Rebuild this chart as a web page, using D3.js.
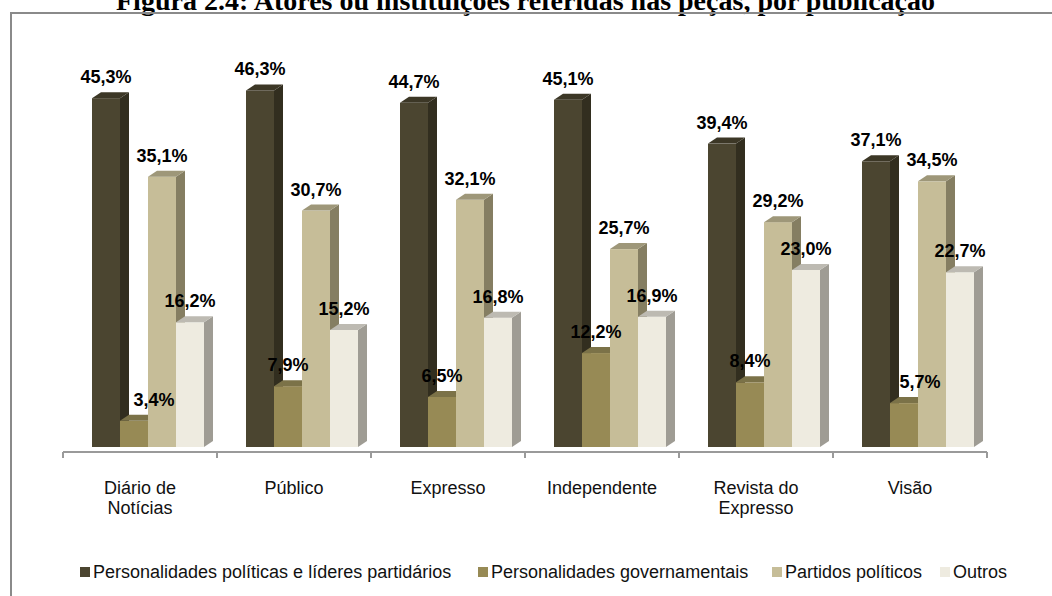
<!DOCTYPE html>
<html>
<head>
<meta charset="utf-8">
<script src="https://cdn.jsdelivr.net/npm/d3@7"></script>
<style>
  body { margin: 0; background: #fff; }
  svg { display: block; }
</style>
</head>
<body>
<div id="chart"></div>
<script>
/* global d3 */
// DATA
let categories = ["Diário de Notícias", "Público", "Expresso", "Independente", "Revista do Expresso", "Visão"]
let categoryLines = [["Diário de", "Notícias"], ["Público"], ["Expresso"], ["Independente"], ["Revista do", "Expresso"], ["Visão"]]
let seriesNames = ["Personalidades políticas e líderes partidários", "Personalidades governamentais", "Partidos políticos", "Outros"]
let politicos = [45.3, 46.3, 44.7, 45.1, 39.4, 37.1]
let governamentais = [3.4, 7.9, 6.5, 12.2, 8.4, 5.7]
let partidos = [35.1, 30.7, 32.1, 25.7, 29.2, 34.5]
let outros = [16.2, 15.2, 16.8, 16.9, 23.0, 22.7]
let titleText = "Figura 2.4: Atores ou instituições referidas nas peças, por publicação"

let seriesValues = [politicos, governamentais, partidos, outros]
// front / side / top face colours per series
let faces = [
  {front: "#4b4530", side: "#322e1f", top: "#3c3726"},
  {front: "#978a55", side: "#6c6440", top: "#7b7248"},
  {front: "#c6bd98", side: "#857e62", top: "#9e9779"},
  {front: "#eeebe0", side: "#9f9c94", top: "#bdbab2"}
]

let width = 1052, height = 596
let depthX = 9, depthY = 6
let sans = "'Liberation Sans', Arial, sans-serif"

let svg = d3.select("#chart").append("svg")
  .attr("width", width)
  .attr("height", height)

// title (partly cut off at the top, as in the original page)
svg.append("text")
  .attr("x", 116)
  .attr("y", 10)
  .style("font-family", "'Liberation Serif', 'Times New Roman', serif")
  .style("font-weight", "bold")
  .style("font-size", "28px")
  .text(titleText)

// frame
svg.append("rect")
  .attr("x", 11).attr("y", 13)
  .attr("width", 1060).attr("height", 600)
  .attr("fill", "none")
  .attr("stroke", "#8a8a8a")
  .attr("stroke-width", 2)

// SCALES
let xScale = d3.scaleBand()
  .domain(categories)
  .range([63, 987])

let innerScale = d3.scaleBand()
  .domain(d3.range(seriesNames.length))
  .range([29, 29 + 28 * seriesNames.length])

let yScale = d3.scaleLinear()
  .domain([0, 50])
  .range([447, 62])

// AXIS (floor edge + ticks at category boundaries)
let axisY = 452
let axisG = svg.append("g").attr("class", "x axis")
axisG.append("line")
  .attr("x1", xScale.range()[0]).attr("x2", xScale.range()[1])
  .attr("y1", axisY).attr("y2", axisY)
  .attr("stroke", "#9a9a9a").attr("stroke-width", 2)
axisG.selectAll(".tick")
  .data(d3.range(categories.length + 1))
  .join("line")
  .attr("class", "tick")
  .attr("x1", i => xScale.range()[0] + i * xScale.step())
  .attr("x2", i => xScale.range()[0] + i * xScale.step())
  .attr("y1", axisY).attr("y2", axisY + 6)
  .attr("stroke", "#9a9a9a").attr("stroke-width", 2)

axisG.selectAll(".cat")
  .data(categories)
  .join("text")
  .attr("class", "cat")
  .attr("text-anchor", "middle")
  .style("font-family", sans)
  .style("font-size", "18px")
  .attr("fill", "#111")
  .each(function(d, i) {
    d3.select(this).selectAll("tspan")
      .data(categoryLines[i])
      .join("tspan")
      .attr("x", xScale(d) + xScale.bandwidth() / 2)
      .attr("y", (l, j) => 494 + j * 20)
      .text(l => l)
  })

// BARS
let bars = []
categories.forEach((c, i) => {
  seriesValues.forEach((vals, s) => {
    bars.push({cat: c, s: s, value: vals[i]})
  })
})

let barW = innerScale.bandwidth()
let barG = svg.append("g")

let groups = barG.selectAll(".bar")
  .data(bars)
  .join("g")
  .attr("class", "bar")

// front face
groups.append("rect")
  .attr("x", d => xScale(d.cat) + innerScale(d.s))
  .attr("y", d => yScale(d.value))
  .attr("width", barW)
  .attr("height", d => yScale(0) - yScale(d.value))
  .attr("fill", d => faces[d.s].front)

// side face
groups.append("path")
  .attr("d", d => {
    let x1 = xScale(d.cat) + innerScale(d.s) + barW
    let y0 = yScale(0), y1 = yScale(d.value)
    return "M" + x1 + "," + y1 + "L" + (x1 + depthX) + "," + (y1 - depthY) +
      "L" + (x1 + depthX) + "," + (y0 - depthY) + "L" + x1 + "," + y0 + "Z"
  })
  .attr("fill", d => faces[d.s].side)

// top face
groups.append("path")
  .attr("d", d => {
    let x0 = xScale(d.cat) + innerScale(d.s)
    let y1 = yScale(d.value)
    return "M" + x0 + "," + y1 + "L" + (x0 + depthX) + "," + (y1 - depthY) +
      "L" + (x0 + barW + depthX) + "," + (y1 - depthY) + "L" + (x0 + barW) + "," + y1 + "Z"
  })
  .attr("fill", d => faces[d.s].top)

// value labels (two small ones sit a bit to the right in the original)
let labelNudge = {"Diário de Notícias-1": 20, "Visão-1": 16}
svg.append("g").selectAll("text")
  .data(bars)
  .join("text")
  .attr("x", d => xScale(d.cat) + innerScale(d.s) + barW / 2 + (labelNudge[d.cat + "-" + d.s] || 0))
  .attr("y", d => yScale(d.value) - 15)
  .attr("text-anchor", "middle")
  .style("font-family", sans)
  .style("font-weight", "bold")
  .style("font-size", "18px")
  .attr("fill", "#000")
  .text(d => d3.format(".1f")(d.value).replace(".", ",") + "%")

// LEGEND
let legendX = [80, 478, 772, 940]
let legend = svg.append("g").selectAll("g")
  .data(seriesNames)
  .join("g")
  .attr("transform", (d, i) => "translate(" + legendX[i] + ",567)")
legend.append("rect")
  .attr("width", 10).attr("height", 10)
  .attr("fill", (d, i) => faces[i].front)
legend.append("text")
  .attr("x", 13).attr("y", 11)
  .style("font-family", sans)
  .style("font-size", "18px")
  .attr("fill", "#111")
  .text(d => d)
</script>
</body>
</html>
